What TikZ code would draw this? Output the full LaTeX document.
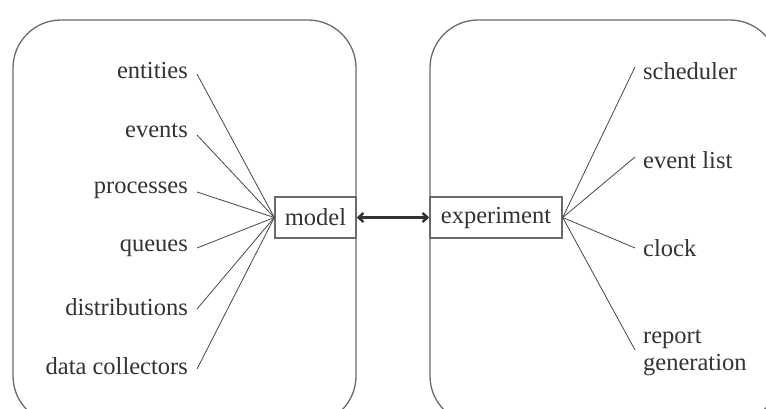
\documentclass[tikz,border=0pt]{standalone}
\usepackage{fontspec}
\setmainfont{Liberation Serif}
\usetikzlibrary{arrows.meta}
\definecolor{ink}{HTML}{333333}
\definecolor{frame}{HTML}{6A6A6A}
\begin{document}
\begin{tikzpicture}[x=1pt,y=-1pt,
  txt/.style={font=\fontsize{24.5}{27}\selectfont, text=ink, inner sep=0pt},
  lbl/.style={txt},
  box/.style={txt, draw=frame, line width=1.4pt, minimum height=41pt, inner xsep=0pt},
  spoke/.style={draw=ink!90, line width=0.8pt},
  panel/.style={draw=frame, line width=1.3pt, rounded corners=48pt}]
\useasboundingbox (0,0) rectangle (766,409);
\clip (0,0) rectangle (766,409);
% two rounded panels
\draw[panel] (13,20) rectangle (356,424);
\draw[panel] (430,20) rectangle (778,424);
% central boxes
\node[box, minimum width=81pt] (model) at (315.5,217.5) {model};
\node[box, minimum width=132pt] (exp) at (496,217.5) {experiment};
\draw[draw=ink, line width=2.4pt, {Straight Barb[length=5pt,width=9pt]}-{Straight Barb[length=5pt,width=9pt]}] (model.east) -- (exp.west);
% left labels
\node[lbl, anchor=east] (ent) at (188,71) {entities};
\node[lbl, anchor=east] (evt) at (188,131) {events};
\node[lbl, anchor=east] (prc) at (188,190) {processes};
\node[lbl, anchor=east] (que) at (188,248) {queues};
\node[lbl, anchor=east] (dst) at (188,307) {distributions};
\node[lbl, anchor=east] (dcl) at (188,366) {data collectors};
\foreach \n/\dy in {ent/-3,evt/-4,prc/-2,que/0,dst/-2,dcl/-3}
  \draw[spoke] ([xshift=9pt,yshift=\dy pt]\n.east) -- (model.west);
% right labels
\node[lbl, anchor=west] (sch) at (643,71) {scheduler};
\node[lbl, anchor=west] (elist) at (643,160) {event list};
\node[lbl, anchor=west] (clk) at (643,248) {clock};
\node[lbl, anchor=west, align=left] (rep) at (643,353) {report\\generation};
\foreach \n/\dy in {sch/4,elist/3,clk/0,rep/3}
  \draw[spoke] (exp.east) -- ([xshift=-8pt,yshift=\dy pt]\n.west);
\end{tikzpicture}
\end{document}
